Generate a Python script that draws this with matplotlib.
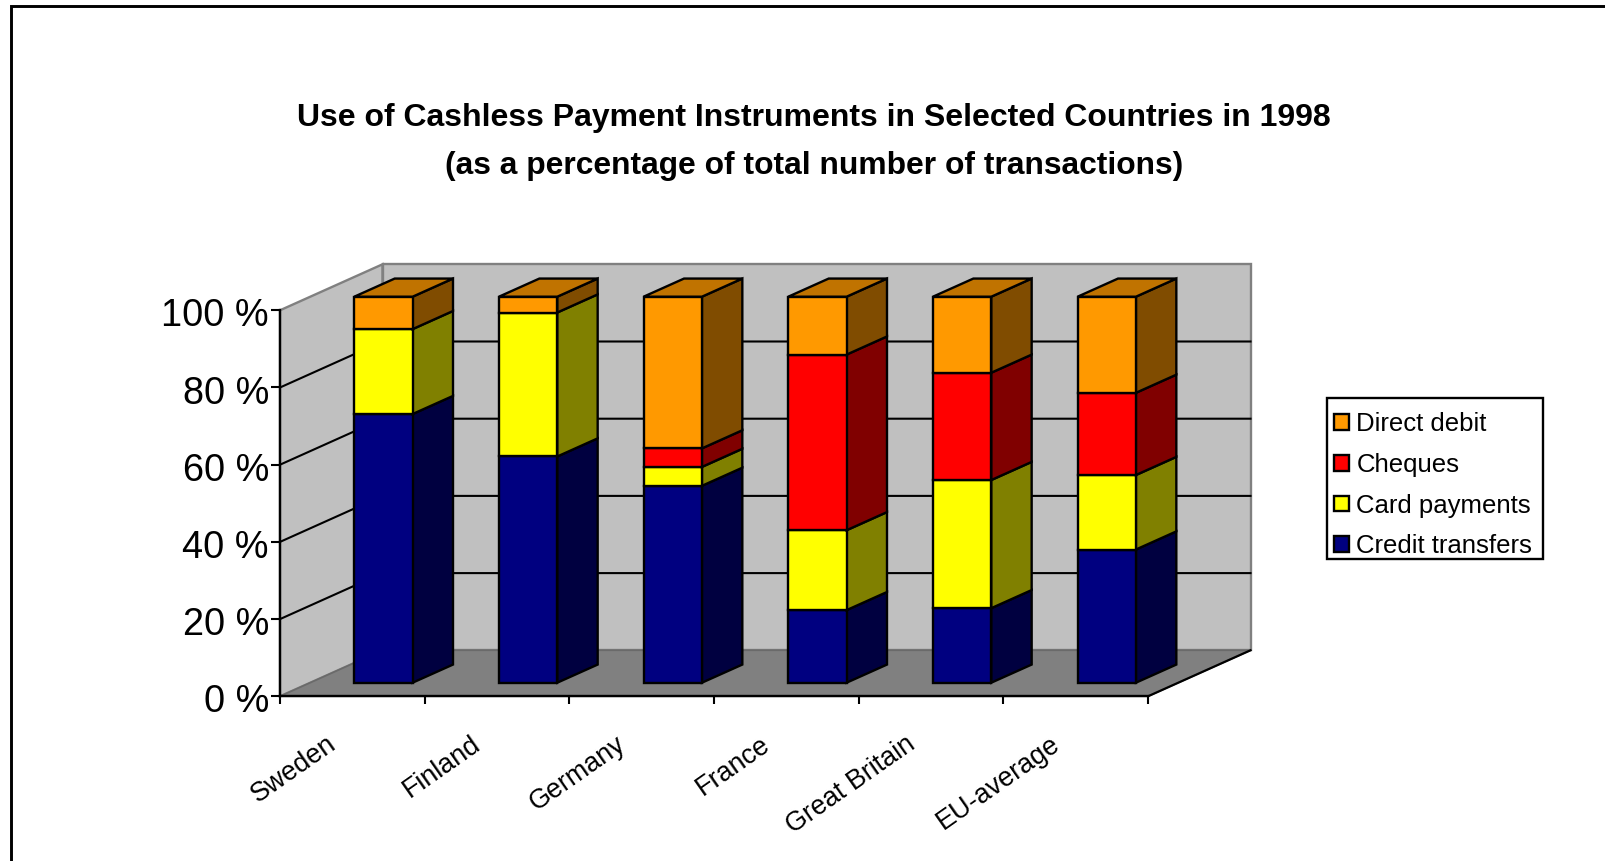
import matplotlib
matplotlib.use('Agg')
import matplotlib.pyplot as plt
from matplotlib.patches import Patch, Rectangle
from matplotlib.lines import Line2D
from matplotlib.transforms import ScaledTranslation

plt.rcParams['font.family'] = ['Liberation Sans', 'DejaVu Sans']

countries = ['Sweden', 'Finland', 'Germany', 'France', 'Great Britain', 'EU-average']
credit_transfers = [69.6, 58.6, 51.0, 18.8, 19.3, 34.5]
card_payments = [22.0, 37.3, 4.9, 20.7, 33.2, 19.3]
cheques = [0.0, 0.0, 4.8, 45.5, 27.8, 21.3]
direct_debit = [8.4, 4.1, 39.3, 15.0, 19.7, 24.9]

series = [credit_transfers, card_payments, cheques, direct_debit]
series_names = ['Credit transfers', 'Card payments', 'Cheques', 'Direct debit']
front_colors = ['#000080', '#FFFF00', '#FF0000', '#FF9900']
side_colors = ['#000040', '#808000', '#800000', '#804C00']
top_color = '#C07300'
y_ticks = [0, 20, 40, 60, 80, 100]

W, H = 1605, 861
fig = plt.figure(figsize=(W / 100, H / 100), dpi=100)
ax = fig.add_axes([280 / W, 1 - 696.3 / H, 868 / W, 386 / H])
ax.set_xlim(0, 6)
ax.set_ylim(0, 100)
ax.patch.set_visible(False)

# depth of the fake 3D box, in data units
DX = 102.5 / (868 / 6)
DY = 46 / 3.86


def proj(x, y, z):
    return (x + DX * z, y + DY * z)


def face(points, color, edge='black', lw=1.7, zorder=2):
    ax.fill([p[0] for p in points], [p[1] for p in points], facecolor=color,
            edgecolor=edge, linewidth=lw, clip_on=False, zorder=zorder,
            joinstyle='miter')


# walls and floor
face([proj(0, 0, 0), proj(0, 100, 0), proj(0, 100, 1), proj(0, 0, 1)], '#C0C0C0', '#808080', 1.7, 1)
face([proj(0, 0, 1), proj(0, 100, 1), proj(6, 100, 1), proj(6, 0, 1)], '#C0C0C0', '#808080', 1.7, 1)
face([proj(0, 0, 0), proj(6, 0, 0), proj(6, 0, 1), proj(0, 0, 1)], '#808080', '#6A6A6A', 1.2, 1)
ax.plot(*zip(proj(6, 0, 0), proj(6, 0, 1)), color='black', lw=1.6, clip_on=False, zorder=1.5)

# gridlines on both walls
for t in y_ticks[1:-1]:
    ax.plot(*zip(proj(0, t, 0), proj(0, t, 1), proj(6, t, 1)), color='black', lw=1.5,
            clip_on=False, zorder=1.5, solid_joinstyle='miter')

# bars
bar_left = 0.304
bar_w = 0.403
z0, z1 = 0.296, 0.69
for i in range(len(countries)):
    x0 = i + bar_left
    x1 = x0 + bar_w
    base = 0
    for vals, fc, sc in zip(series, front_colors, side_colors):
        v = vals[i]
        if v == 0:
            continue
        top = base + v
        face([proj(x1, base, z0), proj(x1, top, z0), proj(x1, top, z1), proj(x1, base, z1)], sc)
        face([proj(x0, base, z0), proj(x1, base, z0), proj(x1, top, z0), proj(x0, top, z0)], fc)
        base = top
    face([proj(x0, base, z0), proj(x1, base, z0), proj(x1, base, z1), proj(x0, base, z1)], top_color)

# axes
for s in ['top', 'right']:
    ax.spines[s].set_visible(False)
for s in ['left', 'bottom']:
    ax.spines[s].set_linewidth(1.7)
    ax.spines[s].set_zorder(3)
ax.set_yticks(y_ticks)
ax.set_yticklabels([f'{t} %' for t in y_ticks], fontsize=27.3)
ax.tick_params(axis='y', length=6.5, width=1.5, pad=1.5)
# labels sit a little lower than the ticks in the original
down = ScaledTranslation(0, -2 / 100, fig.dpi_scale_trans)
for lab in ax.get_yticklabels():
    lab.set_transform(lab.get_transform() + down)
ax.set_xticks(range(7))
ax.set_xticklabels([])
ax.tick_params(axis='x', which='major', length=6, width=1.5)
ax.set_xticks([i + 0.32 for i in range(6)], minor=True)
ax.set_xticklabels(countries, minor=True, fontsize=19.4, rotation=35, ha='right',
                   va='top', rotation_mode='anchor')
ax.tick_params(axis='x', which='minor', length=0, pad=25)

# title
fig.text(814 / W, 1 - 118 / H, 'Use of Cashless Payment Instruments in Selected Countries in 1998',
         ha='center', va='center', fontsize=23.05, fontweight='bold')
fig.text(814 / W, 1 - 166 / H, '(as a percentage of total number of transactions)',
         ha='center', va='center', fontsize=22.9, fontweight='bold')

# legend, box drawn apart because the rows are not centred in it
fig.add_artist(Rectangle((1326.6 / W, 1 - 559 / H), 216 / W, 161 / H, transform=fig.transFigure,
                         facecolor='white', edgecolor='black', linewidth=1.7))
handles = [Patch(facecolor=c, edgecolor='black', linewidth=1.7, label=n)
           for c, n in zip(front_colors[::-1], series_names[::-1])]
leg = fig.legend(handles=handles, loc='upper left',
                 bbox_to_anchor=(1326.6 / W, 1 - 404.5 / H), bbox_transform=fig.transFigure,
                 fontsize=18.5, frameon=False,
                 borderaxespad=0, borderpad=0.3, labelspacing=0.65,
                 handlelength=0.56, handleheight=0.56, handletextpad=0.3)

# outer chart frame, only top and left fall inside the picture
fig.add_artist(Line2D([10.5 / W, 10.5 / W, 1], [0, 1 - 6.3 / H, 1 - 6.3 / H], color='black', lw=2.1,
                      solid_joinstyle='miter'))

fig.savefig('out.png', dpi=100, facecolor='white')
